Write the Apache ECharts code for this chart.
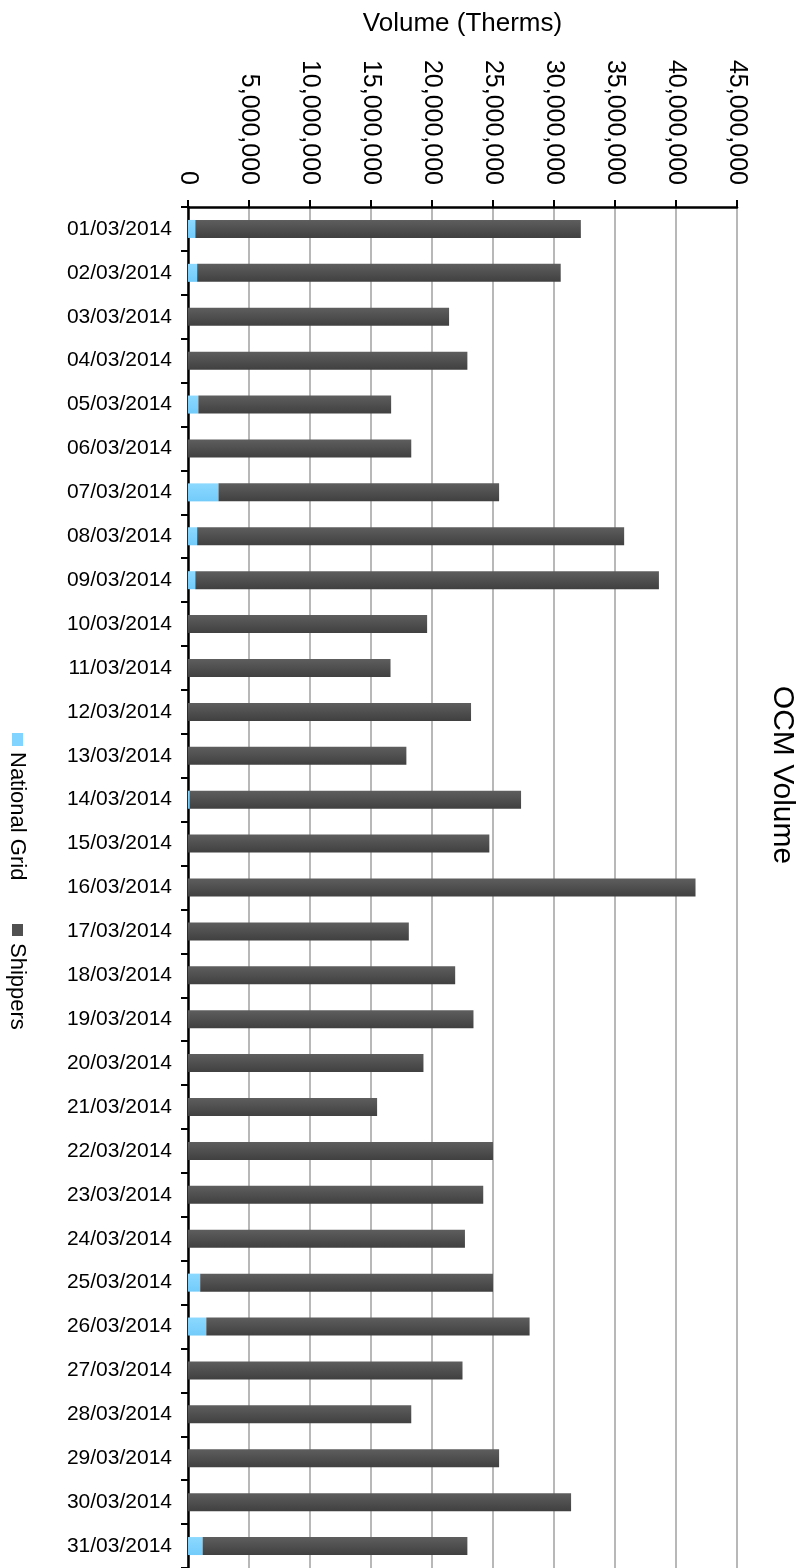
<!DOCTYPE html>
<html>
<head>
<meta charset="utf-8">
<script src="https://cdn.jsdelivr.net/npm/echarts@6/dist/echarts.min.js"></script>
<style>html,body{margin:0;padding:0;background:#fff;}#c{width:809px;height:1568px;}</style>
</head>
<body>
<div id="c"></div>
<script>
var categories = ['01/03/2014','02/03/2014','03/03/2014','04/03/2014','05/03/2014','06/03/2014','07/03/2014','08/03/2014','09/03/2014','10/03/2014','11/03/2014','12/03/2014','13/03/2014','14/03/2014','15/03/2014','16/03/2014','17/03/2014','18/03/2014','19/03/2014','20/03/2014','21/03/2014','22/03/2014','23/03/2014','24/03/2014','25/03/2014','26/03/2014','27/03/2014','28/03/2014','29/03/2014','30/03/2014','31/03/2014'];
var nationalGrid = [600000,750000,0,0,850000,0,2500000,750000,600000,0,0,0,0,150000,0,0,0,0,0,0,0,0,0,0,1000000,1500000,0,0,0,0,1200000];
var shippers = [31600000,29800000,21400000,22900000,15800000,18300000,23000000,35000000,38000000,19600000,16600000,23200000,17900000,27150000,24700000,41600000,18100000,21900000,23400000,19300000,15500000,25000000,24200000,22700000,24000000,26500000,22500000,18300000,25500000,31400000,21700000];
var seriesNames = ['National Grid','Shippers'];
var titleText = 'OCM Volume';
var axisName = 'Volume (Therms)';

var FONT = 'Liberation Sans, Arial, sans-serif';
function fmt(v){ return String(v).replace(/\B(?=(\d{3})+(?!\d))/g, ','); }

var chart = echarts.init(document.getElementById('c'), null, {renderer:'canvas'});
var shipGrad = new echarts.graphic.LinearGradient(0, 1, 0, 0, [
  {offset:0, color:'#404040'},
  {offset:1, color:'#5e5e5e'}
]);
var ngGrad = new echarts.graphic.LinearGradient(0, 1, 0, 0, [
  {offset:0, color:'#72cbfa'},
  {offset:1, color:'#8cd9ff'}
]);
chart.setOption({
  animation:false,
  backgroundColor:'#ffffff',
  grid:{left:188, top:207, width:549, height:1364, containLabel:false},
  xAxis:{
    type:'value', position:'top', min:0, max:45000000, interval:5000000,
    name:axisName, nameLocation:'middle', nameGap:170,
    nameTextStyle:{fontFamily:FONT, fontSize:26, color:'#000'},
    axisLine:{show:true, lineStyle:{color:'#000', width:2.5}},
    axisTick:{show:true, length:7, lineStyle:{color:'#000', width:2}},
    axisLabel:{rotate:90, fontFamily:FONT, fontSize:25, color:'#000', margin:22, formatter:fmt},
    splitLine:{show:true, lineStyle:{color:'#a0a0a0', width:1.5}}
  },
  yAxis:{
    type:'category', inverse:true, data:categories,
    axisLine:{show:true, lineStyle:{color:'#000', width:2.5}},
    axisTick:{show:true, length:7, lineStyle:{color:'#000', width:2}},
    axisLabel:{fontFamily:FONT, fontSize:21, color:'#000', margin:16},
    splitLine:{show:false}
  },
  series:[
    {name:seriesNames[0], type:'bar', stack:'t', data:nationalGrid, barWidth:18,
     itemStyle:{color:ngGrad}},
    {name:seriesNames[1], type:'bar', stack:'t', data:shippers, barWidth:18,
     itemStyle:{color:shipGrad}}
  ],
  graphic:[
    {type:'text', x:782, y:775, rotation:-Math.PI/2,
     style:{text:titleText, fontFamily:FONT, fontSize:30, fill:'#000', align:'center', verticalAlign:'middle'}},
    {type:'rect', shape:{x:12, y:733, width:11, height:13}, style:{fill:'#80d4ff'}},
    {type:'text', x:17, y:752, rotation:-Math.PI/2,
     style:{text:seriesNames[0], fontFamily:FONT, fontSize:22, fill:'#000', align:'left', verticalAlign:'middle'}},
    {type:'rect', shape:{x:12, y:924, width:11, height:12}, style:{fill:'#505050'}},
    {type:'text', x:17, y:943, rotation:-Math.PI/2,
     style:{text:seriesNames[1], fontFamily:FONT, fontSize:22, fill:'#000', align:'left', verticalAlign:'middle'}}
  ]
});
</script>
</body>
</html>
